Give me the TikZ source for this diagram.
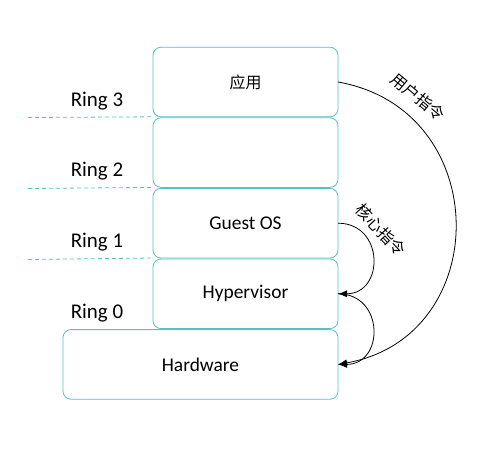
\documentclass[tikz,border=0pt]{standalone}
\usepackage{fontspec}
\setmainfont{Carlito}
\newfontfamily\cjk{Noto Sans CJK SC}
\usetikzlibrary{shapes,arrows,arrows.meta,positioning}
\definecolor{ringline}{RGB}{86,194,194}

\begin{document}
\begin{tikzpicture}[
    x=1bp, y=-1bp,
    node distance=1bp,
    ringbox/.style={rectangle, rounded corners=8bp, draw=ringline, line width=0.8bp, fill=white, minimum width=185bp, minimum height=69.6bp, inner sep=0pt, outer sep=0pt, font=\fontsize{19.5}{22}\selectfont},
    ringlabel/.style={font=\fontsize{21}{24}\selectfont, inner sep=0pt},
    divider/.style={draw=ringline, line width=0.8bp, dash pattern=on 4bp off 3bp},
    cmdlabel/.style={font=\cjk\fontsize{16}{18}\selectfont, inner sep=0pt},
    arrow/.style={-{Latex[length=9bp, width=7bp]}, line width=0.8bp}
]
\useasboundingbox (0,0) rectangle (496,460);

% Privilege rings - stacked boxes
\node[ringbox] (app) at (245.5,82) {\cjk\fontsize{16}{18}\selectfont 应用};

\node[ringbox, below=of app] (empty) {};

\node[ringbox, below=of empty] (guest) {Guest OS};

\node[ringbox, below=of guest] (hyper) {Hypervisor};

\node[ringbox, minimum width=275bp, below=of hyper.south east, anchor=north east] (hard) {Hardware};

% Ring names on the left
\node[ringlabel] (ring3) at (97,101) {Ring 3};
\node[ringlabel] (ring2) at (97,171) {Ring 2};
\node[ringlabel] (ring1) at (97,242) {Ring 1};
\node[ringlabel] (ring0) at (97,313) {Ring 0};

% Dashed ring boundaries
\coordinate (cut3) at (28,117.5);
\coordinate (cut2) at (28,188.5);
\coordinate (cut1) at (28,259.5);
\draw[divider] (cut3) -- (app.south west);
\draw[divider] (cut2) -- (empty.south west);
\draw[divider] (cut1) -- (guest.south west);

% Instruction paths
\draw[arrow] (app.east) to[out=-10, in=10, looseness=1.44] (hard.east);
\draw[arrow] (guest.east) to[out=0, in=0, looseness=1.69] (hyper.east);
\draw[arrow] (hyper.east) to[out=0, in=0, looseness=1.69] (hard.east);

\node[cmdlabel, rotate=-40] (usercmd) at (418,97) {用户指令};
\node[cmdlabel, rotate=-47] (kernelcmd) at (381,230) {核心指令};

\end{tikzpicture}
\end{document}
